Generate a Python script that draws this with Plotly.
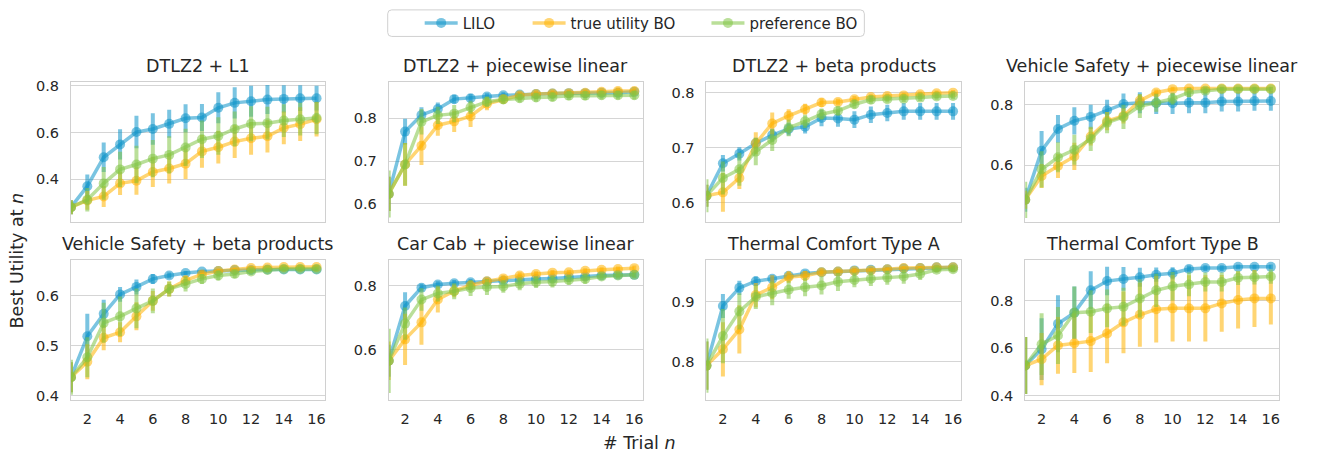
import plotly.graph_objects as go

trials = list(range(1, 17))
x_ticks = [2, 4, 6, 8, 10, 12, 14, 16]
titles = ["DTLZ2 + L1", "DTLZ2 + piecewise linear", "DTLZ2 + beta products",
          "Vehicle Safety + piecewise linear", "Vehicle Safety + beta products",
          "Car Cab + piecewise linear", "Thermal Comfort Type A", "Thermal Comfort Type B"]
series_names = ["LILO", "true utility BO", "preference BO"]

# 1 DTLZ2 + L1
lilo_1 = [0.28, 0.37, 0.494, 0.549, 0.602, 0.615, 0.637, 0.661, 0.664, 0.706, 0.727, 0.734, 0.741, 0.744, 0.747, 0.747]
true_1 = [0.28, 0.309, 0.326, 0.382, 0.393, 0.431, 0.446, 0.466, 0.519, 0.537, 0.561, 0.575, 0.584, 0.62, 0.636, 0.657]
pref_1 = [0.28, 0.312, 0.382, 0.442, 0.463, 0.488, 0.504, 0.536, 0.571, 0.585, 0.615, 0.637, 0.64, 0.651, 0.657, 0.662]
lilo_err_1 = [0.03, 0.05, 0.063, 0.065, 0.07, 0.067, 0.06, 0.06, 0.058, 0.066, 0.067, 0.066, 0.062, 0.058, 0.055, 0.053]
true_err_1 = [0.03, 0.04, 0.045, 0.05, 0.06, 0.065, 0.065, 0.065, 0.07, 0.07, 0.07, 0.07, 0.07, 0.07, 0.072, 0.074]
pref_err_1 = [0.03, 0.05, 0.07, 0.075, 0.08, 0.08, 0.08, 0.08, 0.08, 0.08, 0.075, 0.075, 0.07, 0.07, 0.07, 0.07]

# 2 DTLZ2 + piecewise linear
lilo_2 = [0.623, 0.769, 0.808, 0.822, 0.845, 0.847, 0.851, 0.854, 0.856, 0.857, 0.858, 0.859, 0.859, 0.86, 0.86, 0.862]
true_2 = [0.623, 0.692, 0.736, 0.784, 0.793, 0.805, 0.834, 0.845, 0.854, 0.857, 0.858, 0.859, 0.86, 0.862, 0.864, 0.864]
pref_2 = [0.623, 0.692, 0.792, 0.807, 0.811, 0.826, 0.839, 0.844, 0.847, 0.849, 0.85, 0.853, 0.853, 0.854, 0.854, 0.854]
lilo_err_2 = [0.04, 0.03, 0.018, 0.015, 0.01, 0.01, 0.008, 0.007, 0.006, 0.006, 0.006, 0.006, 0.006, 0.006, 0.006, 0.006]
true_err_2 = [0.04, 0.05, 0.045, 0.025, 0.025, 0.025, 0.015, 0.01, 0.008, 0.008, 0.008, 0.008, 0.008, 0.008, 0.008, 0.008]
pref_err_2 = [0.055, 0.05, 0.03, 0.02, 0.02, 0.015, 0.012, 0.01, 0.01, 0.01, 0.01, 0.01, 0.01, 0.01, 0.01, 0.01]

# 3 DTLZ2 + beta products
lilo_3 = [0.613, 0.672, 0.689, 0.708, 0.723, 0.734, 0.738, 0.754, 0.753, 0.751, 0.76, 0.763, 0.766, 0.766, 0.766, 0.766]
true_3 = [0.613, 0.619, 0.645, 0.708, 0.744, 0.758, 0.77, 0.782, 0.783, 0.788, 0.792, 0.794, 0.795, 0.797, 0.799, 0.8]
pref_3 = [0.613, 0.645, 0.661, 0.693, 0.714, 0.736, 0.748, 0.761, 0.767, 0.779, 0.787, 0.788, 0.789, 0.791, 0.793, 0.794]
lilo_err_3 = [0.02, 0.015, 0.012, 0.01, 0.012, 0.012, 0.012, 0.015, 0.015, 0.015, 0.015, 0.015, 0.015, 0.015, 0.015, 0.015]
true_err_3 = [0.02, 0.035, 0.02, 0.02, 0.02, 0.012, 0.01, 0.008, 0.006, 0.006, 0.005, 0.005, 0.005, 0.005, 0.005, 0.005]
pref_err_3 = [0.03, 0.03, 0.03, 0.025, 0.02, 0.015, 0.012, 0.01, 0.008, 0.008, 0.007, 0.006, 0.006, 0.006, 0.006, 0.006]

# 4 Vehicle Safety + piecewise linear
lilo_4 = [0.485, 0.648, 0.72, 0.747, 0.76, 0.782, 0.803, 0.807, 0.805, 0.805, 0.807, 0.807, 0.811, 0.811, 0.813, 0.813]
true_4 = [0.485, 0.564, 0.597, 0.629, 0.695, 0.746, 0.763, 0.814, 0.841, 0.852, 0.854, 0.854, 0.854, 0.854, 0.854, 0.854]
pref_4 = [0.485, 0.586, 0.626, 0.651, 0.687, 0.741, 0.76, 0.796, 0.807, 0.82, 0.841, 0.847, 0.852, 0.852, 0.852, 0.852]
lilo_err_4 = [0.04, 0.065, 0.046, 0.045, 0.04, 0.035, 0.035, 0.035, 0.035, 0.035, 0.035, 0.035, 0.033, 0.033, 0.033, 0.033]
true_err_4 = [0.03, 0.04, 0.04, 0.045, 0.03, 0.03, 0.025, 0.02, 0.01, 0.008, 0.005, 0.005, 0.005, 0.005, 0.005, 0.005]
pref_err_4 = [0.06, 0.06, 0.05, 0.05, 0.04, 0.035, 0.04, 0.04, 0.03, 0.02, 0.015, 0.01, 0.008, 0.008, 0.008, 0.008]

# 5 Vehicle Safety + beta products
lilo_5 = [0.437, 0.519, 0.564, 0.603, 0.618, 0.634, 0.641, 0.646, 0.649, 0.65, 0.652, 0.652, 0.653, 0.653, 0.653, 0.653]
true_5 = [0.437, 0.468, 0.516, 0.527, 0.559, 0.59, 0.614, 0.631, 0.643, 0.65, 0.653, 0.656, 0.657, 0.658, 0.658, 0.658]
pref_5 = [0.437, 0.477, 0.546, 0.559, 0.575, 0.59, 0.614, 0.624, 0.634, 0.641, 0.644, 0.649, 0.652, 0.654, 0.654, 0.654]
lilo_err_5 = [0.03, 0.045, 0.028, 0.015, 0.015, 0.01, 0.006, 0.004, 0.003, 0.003, 0.003, 0.003, 0.003, 0.003, 0.003, 0.003]
true_err_5 = [0.03, 0.035, 0.025, 0.02, 0.028, 0.02, 0.015, 0.01, 0.008, 0.005, 0.004, 0.004, 0.004, 0.004, 0.004, 0.004]
pref_err_5 = [0.035, 0.04, 0.04, 0.04, 0.04, 0.025, 0.015, 0.015, 0.01, 0.01, 0.008, 0.006, 0.005, 0.005, 0.005, 0.005]

# 6 Car Cab + piecewise linear
lilo_6 = [0.566, 0.737, 0.794, 0.804, 0.808, 0.811, 0.813, 0.816, 0.818, 0.821, 0.823, 0.827, 0.829, 0.832, 0.834, 0.834]
true_6 = [0.566, 0.633, 0.686, 0.757, 0.784, 0.801, 0.814, 0.823, 0.832, 0.837, 0.841, 0.842, 0.847, 0.85, 0.852, 0.855]
pref_6 = [0.566, 0.682, 0.757, 0.776, 0.783, 0.793, 0.796, 0.798, 0.806, 0.811, 0.813, 0.818, 0.821, 0.829, 0.832, 0.834]
lilo_err_6 = [0.05, 0.043, 0.012, 0.01, 0.01, 0.01, 0.01, 0.01, 0.01, 0.01, 0.01, 0.01, 0.01, 0.008, 0.008, 0.008]
true_err_6 = [0.06, 0.08, 0.07, 0.04, 0.02, 0.012, 0.01, 0.01, 0.01, 0.008, 0.008, 0.008, 0.008, 0.008, 0.008, 0.008]
pref_err_6 = [0.1, 0.05, 0.035, 0.025, 0.025, 0.025, 0.025, 0.02, 0.02, 0.018, 0.018, 0.015, 0.015, 0.01, 0.01, 0.01]

# 7 Thermal Comfort Type A
lilo_7 = [0.794, 0.893, 0.923, 0.934, 0.938, 0.943, 0.947, 0.949, 0.95, 0.952, 0.953, 0.954, 0.955, 0.956, 0.957, 0.957]
true_7 = [0.794, 0.821, 0.854, 0.911, 0.924, 0.941, 0.943, 0.949, 0.95, 0.951, 0.952, 0.954, 0.956, 0.956, 0.957, 0.957]
pref_7 = [0.794, 0.843, 0.884, 0.908, 0.914, 0.92, 0.924, 0.927, 0.933, 0.936, 0.938, 0.94, 0.942, 0.946, 0.953, 0.954]
lilo_err_7 = [0.04, 0.02, 0.012, 0.008, 0.006, 0.005, 0.005, 0.004, 0.004, 0.004, 0.004, 0.004, 0.003, 0.003, 0.003, 0.003]
true_err_7 = [0.04, 0.045, 0.04, 0.02, 0.02, 0.01, 0.008, 0.006, 0.005, 0.005, 0.004, 0.003, 0.003, 0.003, 0.003, 0.003]
pref_err_7 = [0.045, 0.045, 0.03, 0.02, 0.02, 0.015, 0.015, 0.015, 0.015, 0.012, 0.012, 0.012, 0.012, 0.01, 0.005, 0.005]

# 8 Thermal Comfort Type B
lilo_8 = [0.527, 0.596, 0.703, 0.75, 0.844, 0.883, 0.892, 0.899, 0.91, 0.916, 0.934, 0.938, 0.938, 0.943, 0.943, 0.943]
true_8 = [0.527, 0.554, 0.612, 0.621, 0.63, 0.662, 0.709, 0.741, 0.764, 0.768, 0.768, 0.768, 0.789, 0.803, 0.81, 0.81]
pref_8 = [0.527, 0.617, 0.654, 0.75, 0.754, 0.768, 0.775, 0.81, 0.844, 0.861, 0.869, 0.879, 0.879, 0.897, 0.899, 0.902]
lilo_err_8 = [0.12, 0.13, 0.12, 0.11, 0.08, 0.06, 0.05, 0.04, 0.03, 0.025, 0.015, 0.012, 0.012, 0.01, 0.01, 0.01]
true_err_8 = [0.12, 0.11, 0.12, 0.125, 0.13, 0.125, 0.13, 0.135, 0.14, 0.14, 0.14, 0.14, 0.12, 0.12, 0.12, 0.11]
pref_err_8 = [0.12, 0.13, 0.12, 0.11, 0.09, 0.08, 0.08, 0.08, 0.07, 0.06, 0.05, 0.04, 0.04, 0.03, 0.03, 0.03]

y_ranges = [[0.216, 0.818], [0.557, 0.886], [0.565, 0.82], [0.411, 0.877],
            [0.3915, 0.671], [0.444, 0.879], [0.737, 0.9685], [0.382, 0.97]]
y_dticks = [0.2, 0.1, 0.1, 0.2, 0.1, 0.2, 0.1, 0.2]

panels = [
    (lilo_1, true_1, pref_1, lilo_err_1, true_err_1, pref_err_1),
    (lilo_2, true_2, pref_2, lilo_err_2, true_err_2, pref_err_2),
    (lilo_3, true_3, pref_3, lilo_err_3, true_err_3, pref_err_3),
    (lilo_4, true_4, pref_4, lilo_err_4, true_err_4, pref_err_4),
    (lilo_5, true_5, pref_5, lilo_err_5, true_err_5, pref_err_5),
    (lilo_6, true_6, pref_6, lilo_err_6, true_err_6, pref_err_6),
    (lilo_7, true_7, pref_7, lilo_err_7, true_err_7, pref_err_7),
    (lilo_8, true_8, pref_8, lilo_err_8, true_err_8, pref_err_8),
]

W, H = 1319, 458
col_px = [(71, 325), (389, 643), (707, 962), (1026, 1280)]
row_px = [(79, 222), (261, 403)]

base_cols = [(12, 147, 201), (255, 178, 0), (130, 196, 70)]
alpha = 0.55
legend_ids = ["legend", "legend2", "legend3"]
legend_x_px = [420, 528, 707]

def rgba(c, a):
    return "rgba(%d,%d,%d,%.3f)" % (c[0], c[1], c[2], a)

FONT = "DejaVu Sans"
TXT = "#262626"

fig = go.Figure()
layout = dict(
    width=W, height=H, margin=dict(l=0, r=0, t=0, b=0),
    paper_bgcolor="white", plot_bgcolor="white",
    font=dict(family=FONT, size=14.5, color=TXT),
    showlegend=True,
)
annotations = []

for i, vals in enumerate(panels):
    r, c = divmod(i, 4)
    ax = "" if i == 0 else str(i + 1)
    xa, ya = "x" + ax, "y" + ax
    for s in range(3):
        fig.add_trace(go.Scatter(
            x=trials, y=vals[s], xaxis=xa, yaxis=ya,
            mode="lines+markers", name=series_names[s],
            legendgroup=series_names[s], showlegend=(i == 0),
            legend=legend_ids[s],
            line=dict(color=rgba(base_cols[s], alpha), width=3.5),
            marker=dict(color=rgba(base_cols[s], alpha), size=10, line=dict(width=0)),
            error_y=dict(type="data", array=vals[3 + s], visible=True,
                         color=rgba(base_cols[s], alpha), thickness=4, width=0),
        ))
    x0, x1 = col_px[c]
    y0, y1 = row_px[r]
    layout["xaxis" + ax] = dict(
        domain=[x0 / W, x1 / W], anchor=ya, range=[1, 16.5],
        tickvals=x_ticks, showticklabels=(r == 1), showgrid=False,
        showline=True, mirror=True, linecolor="#d0d0d0", linewidth=1,
        zeroline=False, ticks="", ticklabelstandoff=6,
        tickfont=dict(family=FONT, size=14.5, color=TXT),
    )
    layout["yaxis" + ax] = dict(
        domain=[1 - y1 / H, 1 - y0 / H], anchor=xa, range=y_ranges[i],
        dtick=y_dticks[i], tick0=0, tickformat=".1f",
        showgrid=True, gridcolor="#d5d5d5", gridwidth=1,
        showline=True, mirror=True, linecolor="#d0d0d0", linewidth=1,
        zeroline=False, ticks="", ticklabelstandoff=8,
        tickfont=dict(family=FONT, size=14.5, color=TXT),
    )
    annotations.append(dict(
        text=titles[i], xref="paper", yref="paper",
        x=(x0 + x1) / 2 / W, y=1 - y0 / H, xanchor="center", yanchor="bottom",
        yshift=4, showarrow=False, font=dict(family=FONT, size=17.5, color=TXT),
    ))

annotations.append(dict(
    text="# Trial <i>n</i>", xref="paper", yref="paper",
    x=640 / W, y=1 - 447 / H, xanchor="center", yanchor="middle",
    showarrow=False, font=dict(family=FONT, size=17.5, color=TXT),
))
annotations.append(dict(
    text="Best Utility at <i>n</i>", xref="paper", yref="paper",
    x=17 / W, y=1 - 261 / H, xanchor="center", yanchor="middle", textangle=-90,
    showarrow=False, font=dict(family=FONT, size=17.5, color=TXT),
))

layout["annotations"] = annotations
for k, lid in enumerate(legend_ids):
    layout[lid] = dict(
        orientation="h", x=legend_x_px[k] / W, y=1 - 19.5 / H,
        xanchor="left", yanchor="middle",
        bgcolor="rgba(0,0,0,0)", borderwidth=0, itemwidth=33,
        font=dict(family=FONT, size=15, color=TXT),
    )

# legend frame (rounded rectangle) in paper coordinates
bx0, bx1, by0, by1, rad = 388, 865, 6, 33, 4
def px(xp):
    return xp / W
def py(yp):
    return 1 - yp / H
frame_path = (
    "M %f,%f L %f,%f Q %f,%f %f,%f L %f,%f Q %f,%f %f,%f L %f,%f Q %f,%f %f,%f L %f,%f Q %f,%f %f,%f Z" % (
        px(bx0 + rad), py(by0), px(bx1 - rad), py(by0),
        px(bx1), py(by0), px(bx1), py(by0 + rad),
        px(bx1), py(by1 - rad),
        px(bx1), py(by1), px(bx1 - rad), py(by1),
        px(bx0 + rad), py(by1),
        px(bx0), py(by1), px(bx0), py(by1 - rad),
        px(bx0), py(by0 + rad),
        px(bx0), py(by0), px(bx0 + rad), py(by0),
    )
)
layout["shapes"] = [dict(type="path", xref="paper", yref="paper", path=frame_path,
                         line=dict(color="#d0d0d0", width=1), fillcolor="rgba(0,0,0,0)")]

fig.update_layout(**layout)
fig.write_html("out.html")
